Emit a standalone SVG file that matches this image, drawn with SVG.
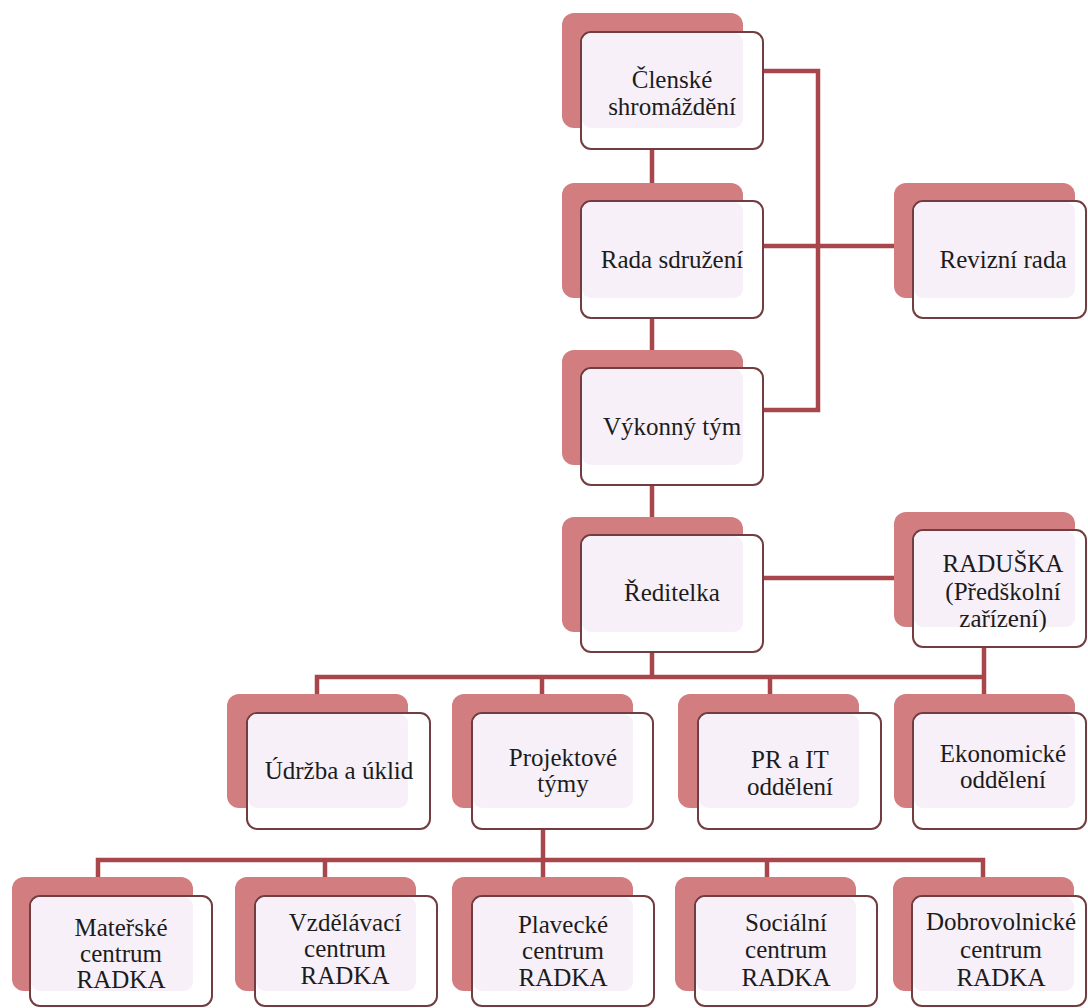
<svg xmlns="http://www.w3.org/2000/svg" width="1088" height="1008" viewBox="0 0 1088 1008" font-family="DejaVu Sans">
<style>
.back{fill:#d27e80;}
.front{fill:#ffffff;stroke:#723d40;stroke-width:2;}
.tint{fill:#f7f0f9;}
.lbl{font-size:25px;fill:#1c1c1c;text-anchor:middle;}
.conn{fill:none;stroke:#a8464b;stroke-width:4.5;}
</style>
<rect width="1088" height="1008" fill="#ffffff"/>
<g id="connectors" font-family="Liberation Mono">
<path class="conn" d="M652,148 V183 M652,317 V350 M652,484 V517"/>
<path class="conn" d="M763,71 H818 V410 H763"/>
<path class="conn" d="M763,246 H894"/>
<path class="conn" d="M763,578 H894"/>
<path class="conn" d="M652,652 V677 M984,647 V694"/>
<path class="conn" d="M317,694 V677 H984 M542,677 V694 M770,677 V694"/>
<path class="conn" d="M543,829 V877"/>
<path class="conn" d="M98,877 V860 H983 V877 M325,860 V877 M767,860 V877"/>
</g>
<g id="clenske" font-family="Liberation Serif">
<rect class="back" x="562" y="13" width="181" height="115" rx="12"/>
<rect class="front" x="581" y="32" width="182" height="117" rx="10"/>
<rect class="tint" x="582" y="33" width="161" height="95" rx="9"/>
<text class="lbl" x="672" y="88">Členské</text>
<text class="lbl" x="672" y="115">shromáždění</text>
</g>
<g id="rada" font-family="Times New Roman">
<rect class="back" x="562" y="183" width="181" height="115" rx="12"/>
<rect class="front" x="581" y="201" width="182" height="117" rx="10"/>
<rect class="tint" x="582" y="202" width="161" height="96" rx="9"/>
<text class="lbl" x="672" y="268">Rada sdružení</text>
</g>
<g id="vykonny" font-family="Times New Roman">
<rect class="back" x="562" y="350" width="181" height="115" rx="12"/>
<rect class="front" x="581" y="368" width="182" height="117" rx="10"/>
<rect class="tint" x="582" y="369" width="161" height="96" rx="9"/>
<text class="lbl" x="672" y="435">Výkonný tým</text>
</g>
<g id="reditelka" font-family="serif">
<rect class="back" x="562" y="517" width="181" height="115" rx="12"/>
<rect class="front" x="581" y="535" width="182" height="117" rx="10"/>
<rect class="tint" x="582" y="536" width="161" height="96" rx="9"/>
<text class="lbl" x="672" y="601">Ředitelka</text>
</g>
<g id="revizni" font-family="Liberation Serif, serif">
<rect class="back" x="894" y="183" width="181" height="115" rx="12"/>
<rect class="front" x="913" y="201" width="173" height="117" rx="10"/>
<rect class="tint" x="914" y="202" width="161" height="96" rx="9"/>
<text class="lbl" x="1003" y="268">Revizní rada</text>
</g>
<g id="raduska" font-family="Times">
<rect class="back" x="894" y="512" width="181" height="115" rx="12"/>
<rect class="front" x="913" y="530" width="173" height="117" rx="10"/>
<rect class="tint" x="914" y="531" width="161" height="96" rx="9"/>
<text class="lbl" x="1003" y="572">RADUŠKA</text>
<text class="lbl" x="1003" y="600">(Předškolní</text>
<text class="lbl" x="1003" y="627">zařízení)</text>
</g>
<g id="udrzba" font-family="Georgia">
<rect class="back" x="227" y="694" width="181" height="114" rx="12"/>
<rect class="front" x="247" y="713" width="183" height="116" rx="10"/>
<rect class="tint" x="248" y="714" width="160" height="94" rx="9"/>
<text class="lbl" x="339" y="779">Údržba a úklid</text>
</g>
<g id="projektove" font-family="Liberation Serif">
<rect class="back" x="452" y="694" width="181" height="114" rx="12"/>
<rect class="front" x="472" y="713" width="181" height="116" rx="10"/>
<rect class="tint" x="473" y="714" width="160" height="94" rx="9"/>
<text class="lbl" x="563" y="766">Projektové</text>
<text class="lbl" x="563" y="792">týmy</text>
</g>
<g id="prit" font-family="Times New Roman">
<rect class="back" x="678" y="694" width="181" height="114" rx="12"/>
<rect class="front" x="698" y="713" width="183" height="116" rx="10"/>
<rect class="tint" x="699" y="714" width="160" height="94" rx="9"/>
<text class="lbl" x="790" y="768">PR a IT</text>
<text class="lbl" x="790" y="795">oddělení</text>
</g>
<g id="ekonomicke" font-family="Liberation Serif">
<rect class="back" x="894" y="694" width="181" height="114" rx="12"/>
<rect class="front" x="913" y="713" width="173" height="116" rx="10"/>
<rect class="tint" x="914" y="714" width="161" height="94" rx="9"/>
<text class="lbl" x="1003" y="762">Ekonomické</text>
<text class="lbl" x="1003" y="788">oddělení</text>
</g>
<g id="materske" font-family="Georgia">
<rect class="back" x="12" y="877" width="181" height="114" rx="12"/>
<rect class="front" x="30" y="896" width="182" height="110" rx="10"/>
<rect class="tint" x="31" y="897" width="162" height="94" rx="9"/>
<text class="lbl" x="121" y="936">Mateřské</text>
<text class="lbl" x="121" y="962">centrum</text>
<text class="lbl" x="121" y="988">RADKA</text>
</g>
<g id="vzdelavaci" font-family="Times">
<rect class="back" x="235" y="877" width="181" height="114" rx="12"/>
<rect class="front" x="255" y="896" width="182" height="110" rx="10"/>
<rect class="tint" x="256" y="897" width="160" height="94" rx="9"/>
<text class="lbl" x="345" y="931">Vzdělávací</text>
<text class="lbl" x="345" y="957">centrum</text>
<text class="lbl" x="345" y="984">RADKA</text>
</g>
<g id="plavecke" font-family="Liberation Serif">
<rect class="back" x="452" y="877" width="181" height="114" rx="12"/>
<rect class="front" x="472" y="896" width="182" height="110" rx="10"/>
<rect class="tint" x="473" y="897" width="160" height="94" rx="9"/>
<text class="lbl" x="563" y="933">Plavecké</text>
<text class="lbl" x="563" y="959">centrum</text>
<text class="lbl" x="563" y="986">RADKA</text>
</g>
<g id="socialni" font-family="serif">
<rect class="back" x="675" y="877" width="181" height="114" rx="12"/>
<rect class="front" x="695" y="896" width="182" height="110" rx="10"/>
<rect class="tint" x="696" y="897" width="160" height="94" rx="9"/>
<text class="lbl" x="786" y="931">Sociální</text>
<text class="lbl" x="786" y="958">centrum</text>
<text class="lbl" x="786" y="986">RADKA</text>
</g>
<g id="dobrovolnicke" font-family="Liberation Serif">
<rect class="back" x="893" y="877" width="181" height="114" rx="12"/>
<rect class="front" x="912" y="896" width="174" height="110" rx="10"/>
<rect class="tint" x="913" y="897" width="161" height="94" rx="9"/>
<text class="lbl" x="1001" y="930">Dobrovolnické</text>
<text class="lbl" x="1001" y="958">centrum</text>
<text class="lbl" x="1001" y="986">RADKA</text>
</g>
</svg>
